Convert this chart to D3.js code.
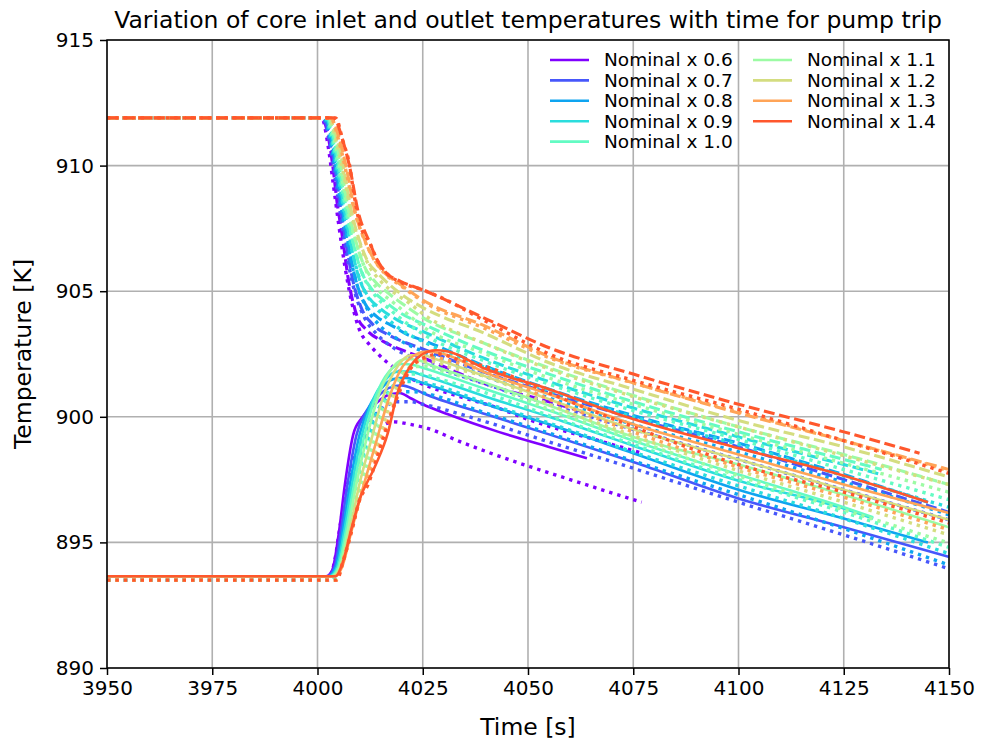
<!DOCTYPE html>
<html>
<head>
<meta charset="utf-8">
<script src="https://cdn.jsdelivr.net/npm/d3@7"></script>
<style>
  body { margin: 0; background: #fff; }
  text { font-family: "DejaVu Sans", sans-serif; fill: #000; }
</style>
</head>
<body>
<svg id="chart" width="981" height="742"></svg>
<script>
var width = 981;
var height = 742;
var margin = {left: 107, right: 32, top: 40, bottom: 74};

var factors = ['0.6', '0.7', '0.8', '0.9', '1.0', '1.1', '1.2', '1.3', '1.4'];
var colors = ['#8000ff', '#4757fb', '#0ea4f0', '#2adddd', '#63fbc3', '#9cfba4', '#d4dd80', '#ffa457', '#ff572c'];

var xTicks = [3950, 3975, 4000, 4025, 4050, 4075, 4100, 4125, 4150];
var yTicks = [890, 895, 900, 905, 910, 915];

// core outlet, solid lines [time, temperature]
var outletSolid = [
    [[3950,893.65],[4002,893.65],[4003.5,893.9],[4005,895.3],[4006.5,897.3],[4008.5,899.3],[4010.5,899.95],[4013,900.4],[4016.5,900.85],[4019.5,900.95],[4022,900.75],[4025,900.5],[4031,900.1],[4043,899.4],[4055,898.8],[4064,898.35]],
    [[3950,893.65],[4002.3,893.65],[4004,894.0],[4005.5,895.4],[4007.2,897.4],[4009.3,899.3],[4011.5,900.2],[4014,900.75],[4017,901.15],[4020,901.25],[4023,901.1],[4025,900.95],[4040,900.1],[4055,899.3],[4075,898.2],[4100,896.75],[4125,895.6],[4150,894.42]],
    [[3950,893.65],[4002.5,893.65],[4004.3,894.0],[4005.9,895.4],[4007.7,897.3],[4010,899.3],[4012.3,900.4],[4015,901.1],[4018,901.5],[4021,901.55],[4025,901.35],[4040,900.5],[4055,899.7],[4075,898.55],[4100,897.1],[4125,895.95],[4145,895.0]],
    [[3950,893.65],[4002.8,893.65],[4004.6,894.0],[4006.3,895.4],[4008.2,897.3],[4010.6,899.3],[4013,900.6],[4016,901.45],[4019,901.8],[4022,901.8],[4025,901.65],[4040,900.8],[4055,900.0],[4075,898.85],[4100,897.45],[4125,896.35],[4132,895.95]],
    [[3950,893.65],[4003.1,893.65],[4004.9,894.0],[4006.7,895.4],[4008.7,897.3],[4011.2,899.3],[4013.8,900.8],[4017,901.8],[4020,902.1],[4023,902.05],[4025,901.95],[4040,901.1],[4055,900.25],[4075,899.05],[4100,897.7],[4125,896.4],[4132,896.0]],
    [[3950,893.65],[4003.4,893.65],[4005.2,894.0],[4007.1,895.4],[4009.2,897.3],[4011.9,899.3],[4014.6,900.9],[4018,902.0],[4021,902.3],[4024,902.25],[4027,902.05],[4040,901.35],[4055,900.45],[4075,899.2],[4100,898.1],[4125,896.9],[4150,895.6]],
    [[3950,893.65],[4003.7,893.65],[4005.5,894.0],[4007.6,895.4],[4009.8,897.2],[4012.8,899.1],[4015.6,900.8],[4019,902.0],[4022,902.45],[4025,902.45],[4028,902.3],[4040,901.6],[4055,900.7],[4075,899.5],[4100,898.3],[4125,897.1],[4150,895.9]],
    [[3950,893.65],[4004,893.65],[4005.8,894.0],[4008,895.4],[4010.5,897.0],[4013.6,898.8],[4016.5,900.5],[4019.5,901.8],[4023,902.45],[4026,902.6],[4030,902.5],[4040,901.75],[4055,900.9],[4075,899.7],[4100,898.5],[4125,897.3],[4150,896.17]],
    [[3950,893.65],[4004.3,893.65],[4006,894.2],[4008,895.5],[4010,896.7],[4013.6,898.0],[4016.7,899.35],[4019,900.95],[4022,902.0],[4025,902.5],[4028,902.65],[4031,902.6],[4040,901.9],[4055,901.1],[4072,900.07],[4100,898.75],[4122,897.8],[4145,896.6]]
];

// core inlet, dashed lines
var inletDashed = [
    [[3950,911.9],[4001,911.9],[4002.5,911.2],[4003.7,909.9],[4004.6,908.6],[4005.8,907.3],[4007.3,905.5],[4009.4,904.0],[4011.7,903.45],[4015.6,903.0],[4021,902.6],[4025,902.35],[4040,901.3],[4055,900.6],[4064,900.15]],
    [[3950,911.9],[4001.3,911.9],[4003,911.0],[4004.3,909.7],[4005.4,908.4],[4006.7,907.0],[4008.3,905.5],[4010.5,904.3],[4013,903.7],[4017,903.25],[4021,902.95],[4025,902.7],[4040,901.75],[4055,900.95],[4075,899.95],[4100,898.8],[4125,897.5],[4150,896.2]],
    [[3950,911.9],[4001.6,911.9],[4003.4,911.0],[4004.7,909.6],[4005.9,908.3],[4007.3,906.9],[4009,905.5],[4011.3,904.5],[4014,904.0],[4018,903.6],[4021,903.3],[4025,903.05],[4040,902.0],[4055,901.1],[4075,900.05],[4100,898.95],[4125,897.7],[4145,896.6]],
    [[3950,911.9],[4001.9,911.9],[4003.7,911.0],[4005.1,909.6],[4006.4,908.2],[4007.9,906.9],[4009.7,905.6],[4012,904.8],[4015,904.3],[4019,903.85],[4025,903.4],[4040,902.3],[4055,901.4],[4075,900.35],[4100,899.2],[4125,898.1],[4134,897.7]],
    [[3950,911.9],[4002.2,911.9],[4004,911.0],[4005.5,909.6],[4006.9,908.2],[4008.5,906.9],[4010.4,905.8],[4012.8,905.1],[4016,904.6],[4020,904.1],[4025,903.7],[4040,902.6],[4055,901.7],[4075,900.6],[4100,899.4],[4125,898.3],[4134,897.9]],
    [[3950,911.9],[4002.5,911.9],[4004.4,911.0],[4005.9,909.6],[4007.4,908.2],[4009.1,907.0],[4011.1,906.0],[4013.6,905.4],[4017,904.9],[4021,904.4],[4025,903.95],[4040,902.9],[4055,901.95],[4075,900.85],[4100,899.6],[4125,898.5],[4150,897.3]],
    [[3950,911.9],[4002.8,911.9],[4004.8,911.0],[4006.4,909.7],[4007.9,908.3],[4009.8,907.1],[4011.9,906.2],[4014.4,905.7],[4017.5,905.2],[4021,904.75],[4025,904.35],[4040,903.3],[4055,902.15],[4075,901.1],[4100,899.85],[4125,898.8],[4150,897.6]],
    [[3950,911.9],[4003.1,911.9],[4005.3,911.0],[4007,909.8],[4008.7,908.3],[4011.3,907.0],[4013.3,906.3],[4015.8,905.75],[4019,905.35],[4025,904.65],[4040,903.6],[4055,902.4],[4075,901.35],[4100,900.15],[4125,899.05],[4150,897.9]],
    [[3950,911.9],[4003.8,911.9],[4006,911.0],[4007.7,909.9],[4009.6,908.2],[4012.5,906.9],[4014,906.3],[4016.5,905.7],[4019.6,905.4],[4025,905.05],[4040,903.9],[4055,902.75],[4075,901.7],[4100,900.5],[4125,899.4],[4143,898.55]]
];

// core outlet, second model, dotted lines
var outletDotted = [
    [[3950,893.5],[4002.5,893.5],[4004,894.2],[4005.5,895.8],[4007,897.2],[4009,898.5],[4011,899.1],[4014,899.5],[4018,899.8],[4022,899.7],[4026,899.55],[4034,899.0],[4042,898.5],[4060,897.5],[4077,896.6]],
    [[3950,893.5],[4002.8,893.5],[4004.5,894.2],[4006.2,895.7],[4008,897.3],[4010.3,898.9],[4013,899.9],[4016,900.4],[4019,900.6],[4022,900.6],[4025,900.5],[4040,899.8],[4055,899.0],[4075,897.95],[4100,896.6],[4125,895.3],[4150,893.95]],
    [[3950,893.5],[4003.1,893.5],[4004.8,894.2],[4006.6,895.7],[4008.5,897.3],[4011,898.9],[4013.8,900.1],[4017,900.8],[4020,901.0],[4023,901.0],[4025,900.95],[4040,900.15],[4055,899.35],[4075,898.25],[4100,896.9],[4125,895.55],[4150,894.1]],
    [[3950,893.5],[4003.4,893.5],[4005.1,894.2],[4007,895.7],[4009,897.3],[4011.6,898.9],[4014.5,900.3],[4018,901.2],[4021,901.4],[4024,901.4],[4027,901.3],[4040,900.55],[4055,899.75],[4075,898.6],[4100,897.25],[4125,895.95],[4150,894.55]],
    [[3950,893.5],[4003.7,893.5],[4005.4,894.2],[4007.4,895.7],[4009.5,897.2],[4012.3,898.9],[4015.3,900.4],[4019,901.45],[4022,901.7],[4025,901.7],[4028,901.55],[4040,900.95],[4055,900.05],[4075,898.9],[4100,897.5],[4125,896.2],[4150,894.8]],
    [[3950,893.5],[4004,893.5],[4005.7,894.2],[4007.8,895.6],[4010,897.1],[4013,898.8],[4016.2,900.5],[4020,901.7],[4023,902.0],[4026,902.0],[4029,901.85],[4040,901.3],[4055,900.3],[4075,899.1],[4100,897.65],[4125,896.3],[4150,894.98]],
    [[3950,893.5],[4004.2,893.5],[4005.9,894.2],[4008,895.6],[4010.4,897.0],[4013.6,898.6],[4017,900.4],[4021,901.8],[4024.5,902.2],[4027.5,902.2],[4031,902.0],[4040,901.6],[4055,900.5],[4075,899.25],[4100,897.85],[4125,896.6],[4150,895.3]],
    [[3950,893.5],[4004.4,893.5],[4006,894.2],[4008.1,895.5],[4010.2,896.8],[4013.8,898.4],[4017.5,900.2],[4021.5,901.8],[4025,902.3],[4028,902.35],[4032,902.2],[4040,901.8],[4055,900.7],[4075,899.4],[4100,898.0],[4125,896.8],[4150,895.5]],
    [[3950,893.5],[4004.6,893.5],[4006,894.2],[4008.2,895.5],[4010,896.7],[4012,897.3],[4014,898.3],[4016,899.35],[4019,900.8],[4022,901.9],[4026,902.4],[4029,902.5],[4033,902.3],[4040,902.0],[4055,900.95],[4072,899.8],[4100,898.1],[4125,897.0],[4150,895.77]]
];

// core inlet, second model, dotted lines
var inletDotted = [
    [[3950,911.9],[4001,911.9],[4002.5,910.8],[4003.8,909.2],[4005,907.7],[4006.5,906.0],[4008.2,904.5],[4010,903.45],[4012.2,902.9],[4014.4,902.5],[4016.3,902.2],[4018.2,901.95],[4020.3,901.7],[4024.3,901.35],[4033.8,900.8],[4042,900.4],[4050.5,899.87],[4072,898.8],[4077,898.55]],
    [[3950,911.9],[4001.2,911.9],[4003,910.8],[4004.3,909.4],[4005.5,908.0],[4007,906.4],[4008.8,905.0],[4011,904.0],[4014,903.3],[4018,902.75],[4025,902.2],[4040,901.3],[4055,900.5],[4075,899.5],[4100,898.3],[4125,897.1],[4150,895.9]],
    [[3950,911.9],[4001.5,911.9],[4003.3,910.8],[4004.7,909.4],[4006,908.0],[4007.6,906.5],[4009.5,905.2],[4011.8,904.3],[4015,903.6],[4019,903.1],[4025,902.6],[4040,901.6],[4055,900.75],[4075,899.7],[4100,898.6],[4125,897.4],[4150,896.1]],
    [[3950,911.9],[4001.8,911.9],[4003.6,910.8],[4005.1,909.4],[4006.5,908.0],[4008.2,906.6],[4010.2,905.4],[4012.6,904.6],[4016,904.0],[4020,903.45],[4025,903.0],[4040,901.95],[4055,901.05],[4075,900.0],[4100,898.9],[4125,897.65],[4150,896.4]],
    [[3950,911.9],[4002.1,911.9],[4003.9,910.8],[4005.5,909.4],[4007,908.0],[4008.8,906.7],[4010.9,905.6],[4013.4,904.9],[4017,904.3],[4021,903.75],[4025,903.3],[4040,902.2],[4055,901.3],[4075,900.25],[4100,899.1],[4125,897.9],[4150,896.7]],
    [[3950,911.9],[4002.4,911.9],[4004.3,910.8],[4005.9,909.4],[4007.5,908.0],[4009.4,906.8],[4011.6,905.8],[4014.2,905.1],[4018,904.55],[4022,904.0],[4025,903.6],[4040,902.5],[4055,901.55],[4075,900.5],[4100,899.3],[4125,898.15],[4150,897.0]],
    [[3950,911.9],[4002.7,911.9],[4004.7,910.8],[4006.4,909.5],[4008,908.1],[4010,906.9],[4012.3,906.0],[4015,905.4],[4018.5,904.9],[4022,904.5],[4025,904.1],[4040,902.9],[4055,901.9],[4075,900.8],[4100,899.6],[4125,898.45],[4150,897.3]],
    [[3950,911.9],[4003.1,911.9],[4005.2,910.9],[4007,909.6],[4008.8,908.2],[4011,907.1],[4013.3,906.3],[4016,905.7],[4019.5,905.25],[4025,904.6],[4040,903.5],[4055,902.35],[4075,901.35],[4100,900.2],[4125,899.05],[4150,897.85]],
    [[3950,911.9],[4004.3,911.9],[4006,911.0],[4007.7,909.94],[4008.4,909.15],[4010,907.7],[4012.5,906.9],[4014,906.3],[4016.5,905.7],[4019.6,905.37],[4025,905.05],[4028,904.85],[4040,903.8],[4055,902.5],[4075,901.45],[4100,900.3],[4125,899.05],[4150,897.75]]
];

var styles = {
    solid: {width: 2.6, dash: null},
    dashed: {width: 3.1, dash: '11,4.6'},
    dotted: {width: 3.4, dash: '3.4,5'}
};

var svg = d3.select('#chart');
var plotW = width - margin.left - margin.right;
var plotH = height - margin.top - margin.bottom;

var x = d3.scaleLinear().domain([3950, 4150]).range([margin.left, margin.left + plotW]);
var y = d3.scaleLinear().domain([890, 915]).range([margin.top + plotH, margin.top]);

// grid
svg.append('g')
    .selectAll('line')
    .data(xTicks)
    .join('line')
    .attr('x1', function(d) { return x(d); })
    .attr('x2', function(d) { return x(d); })
    .attr('y1', margin.top)
    .attr('y2', margin.top + plotH)
    .attr('stroke', '#b0b0b0')
    .attr('stroke-width', 1.6);

svg.append('g')
    .selectAll('line')
    .data(yTicks)
    .join('line')
    .attr('x1', margin.left)
    .attr('x2', margin.left + plotW)
    .attr('y1', function(d) { return y(d); })
    .attr('y2', function(d) { return y(d); })
    .attr('stroke', '#b0b0b0')
    .attr('stroke-width', 1.6);

svg.append('clipPath')
    .attr('id', 'plotclip')
    .append('rect')
    .attr('x', margin.left)
    .attr('y', margin.top)
    .attr('width', plotW)
    .attr('height', plotH);

var line = d3.line()
    .x(function(d) { return x(d[0]); })
    .y(function(d) { return y(d[1]); })
    .curve(d3.curveMonotoneX);

var lines = svg.append('g').attr('clip-path', 'url(#plotclip)');

function drawSeries(points, color, style) {
    lines.append('path')
        .attr('d', line(points))
        .attr('fill', 'none')
        .attr('stroke', color)
        .attr('stroke-width', style.width)
        .attr('stroke-dasharray', style.dash)
        .attr('stroke-linejoin', 'round');
}

factors.forEach(function(f, i) {
    drawSeries(outletSolid[i], colors[i], styles.solid);
    drawSeries(inletDashed[i], colors[i], styles.dashed);
    drawSeries(outletDotted[i], colors[i], styles.dotted);
    drawSeries(inletDotted[i], colors[i], styles.dotted);
});

// axes
var xAxis = d3.axisBottom(x).tickValues(xTicks).tickSize(7).tickPadding(6).tickFormat(d3.format('d'));
var yAxis = d3.axisLeft(y).tickValues(yTicks).tickSize(7).tickPadding(6).tickFormat(d3.format('d'));

var gx = svg.append('g')
    .attr('transform', 'translate(0,' + (margin.top + plotH) + ')')
    .call(xAxis);
var gy = svg.append('g')
    .attr('transform', 'translate(' + margin.left + ',0)')
    .call(yAxis);

[gx, gy].forEach(function(g) {
    g.select('.domain').remove();
    g.selectAll('.tick line').attr('stroke', '#000').attr('stroke-width', 1.5);
    g.selectAll('.tick text')
        .style('font-family', '"DejaVu Sans", sans-serif')
        .style('font-size', '20px')
        .attr('fill', '#000');
});

svg.append('rect')
    .attr('x', margin.left)
    .attr('y', margin.top)
    .attr('width', plotW)
    .attr('height', plotH)
    .attr('fill', 'none')
    .attr('stroke', '#000')
    .attr('stroke-width', 1.5);

// titles
svg.append('text')
    .attr('x', margin.left + plotW / 2)
    .attr('y', 28)
    .attr('text-anchor', 'middle')
    .style('font-size', '23.5px')
    .text('Variation of core inlet and outlet temperatures with time for pump trip');

svg.append('text')
    .attr('x', margin.left + plotW / 2)
    .attr('y', 735)
    .attr('text-anchor', 'middle')
    .style('font-size', '23.5px')
    .text('Time [s]');

svg.append('text')
    .attr('transform', 'translate(31,' + (margin.top + plotH / 2) + ') rotate(-90)')
    .attr('text-anchor', 'middle')
    .style('font-size', '23.5px')
    .text('Temperature [K]');

// legend
var legend = svg.append('g');
var legendItems = legend.selectAll('g')
    .data(factors)
    .join('g')
    .attr('transform', function(d, i) {
        var col = i < 5 ? 0 : 1;
        var row = i < 5 ? i : i - 5;
        return 'translate(' + (550 + col * 203) + ',' + (60 + row * 20.4) + ')';
    });

legendItems.append('line')
    .attr('x1', 0)
    .attr('x2', 39)
    .attr('stroke', function(d, i) { return colors[i]; })
    .attr('stroke-width', 2.6);

legendItems.append('text')
    .attr('x', 54)
    .attr('dy', '0.35em')
    .style('font-size', '18.5px')
    .text(function(d) { return 'Nominal x ' + d; });
</script>
</body>
</html>
